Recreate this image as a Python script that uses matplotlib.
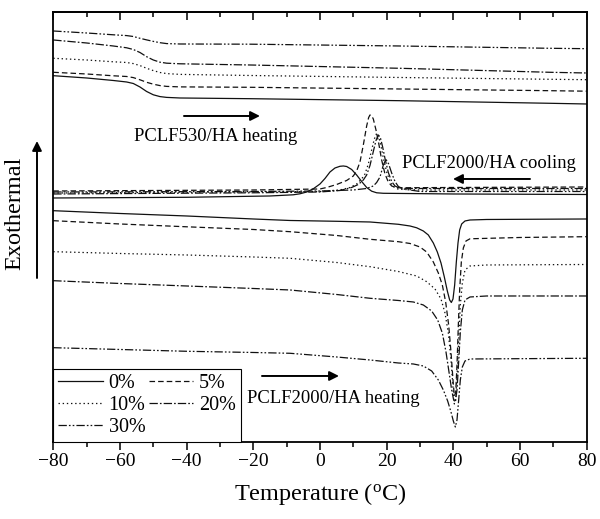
import numpy as np
import matplotlib
matplotlib.use("Agg")
import matplotlib.pyplot as plt
from matplotlib.ticker import MultipleLocator
from matplotlib.lines import Line2D

plt.rcParams['font.family'] = ['Liberation Serif', 'DejaVu Serif']
plt.rcParams['lines.scale_dashes'] = False

# ---------------- data (signal in a.u., larger value = lower on the chart) -------------
labels = ['0%', '5%', '10%', '20%', '30%']

# PCLF530/HA heating
T530 = [-80, -70, -62, -58, -56, -54, -52, -50, -48, -46, -42, -21, 24, 69, 80]
h530_S = {
    '0%':  [75.7, 78.0, 80.5, 82.0, 83.5, 87.0, 91.5, 94.8, 96.6, 97.4, 98.0, 98.7, 100.7, 103.3, 104.0],
    '5%':  [72.3, 74.0, 75.8, 76.5, 77.6, 79.8, 82.3, 84.2, 85.6, 86.4, 86.9, 87.3, 89.0, 90.7, 91.2],
    '10%': [58.3, 60.0, 61.8, 62.5, 63.6, 65.6, 68.3, 70.6, 72.5, 73.6, 74.4, 75.5, 77.5, 79.3, 79.7],
    '20%': [40.0, 43.0, 46.0, 47.8, 49.5, 52.5, 56.7, 60.0, 62.2, 63.2, 63.8, 65.0, 68.3, 72.3, 73.0],
    '30%': [31.0, 33.0, 34.8, 35.6, 36.5, 38.3, 39.9, 41.4, 42.7, 43.6, 44.0, 44.2, 46.0, 48.3, 48.7],
}

# PCLF2000/HA cooling
c2000_T = {
    '0%':  [-80, -40, -15, -8, -6, -4, -2, 0, 1.5, 3, 4.5, 6, 7, 8, 9.5, 11, 12.5, 14, 15.5, 17, 19, 40, 80],
    '5%':  [-80, -20, 0, 2, 5, 8, 10, 11, 12, 13, 14, 14.6, 15, 15.5, 16, 16.8, 17.6, 18.5, 19.5, 20.5, 21.5, 23, 40, 80],
    '10%': [-80, -20, 0, 6, 9, 11, 12.5, 13.5, 14.5, 15.5, 16.3, 17, 17.6, 18.3, 19, 20, 21, 22, 23.5, 30, 80],
    '20%': [-80, -20, 0, 6, 9.5, 11.5, 13, 14, 15, 16, 16.8, 17.5, 18.1, 18.8, 19.5, 20.5, 21.5, 22.5, 24, 30, 80],
    '30%': [-80, -20, 0, 10, 14, 16, 17, 18, 19, 19.8, 20.6, 21.5, 22.5, 23.5, 25, 30, 80],
}
c2000_S = {
    '0%':  [198.0, 197.3, 196.0, 194.8, 193.8, 192.0, 188.8, 184.0, 178.5, 172.0, 168.0, 166.3, 166.0, 166.5, 169.5,
            175.0, 181.5, 187.5, 191.2, 192.8, 193.3, 194.0, 194.5],
    '5%':  [191.0, 190.0, 189.0, 187.5, 184.5, 180.5, 176.0, 171.0, 162.0, 145.0, 126.0, 117.5, 115.0, 115.8, 119.0,
            130.0, 143.0, 160.0, 174.0, 182.0, 186.0, 187.8, 187.5, 187.0],
    '10%': [193.0, 192.0, 191.5, 190.0, 187.5, 184.0, 179.0, 174.0, 164.0, 150.0, 139.0, 133.3, 136.0, 146.0, 158.0,
            172.0, 181.7, 186.5, 189.3, 190.0, 190.0],
    '20%': [194.0, 192.8, 192.0, 190.5, 187.5, 184.5, 180.0, 175.0, 165.5, 151.5, 140.5, 135.0, 137.5, 147.0, 158.5,
            172.5, 181.5, 186.0, 188.3, 188.5, 188.5],
    '30%': [192.0, 191.5, 191.0, 190.0, 188.5, 186.0, 182.5, 177.0, 165.0, 159.3, 164.0, 173.0, 181.5, 186.5, 189.0,
            191.5, 191.5],
}

# PCLF2000/HA heating
h2000_T = {
    '0%':  [-80, -60, -40, -20, -9, 5, 15, 23.5, 27, 29, 31, 32.5, 34, 35.2, 36.3, 37.3, 38.2, 38.9, 39.4, 39.9,
            40.4, 40.9, 41.4, 41.9, 42.5, 43.5, 45, 50, 80],
    '5%':  [-80, -60, -40, -20, -9, 5, 15, 23.5, 27, 30, 32, 34, 35.5, 36.7, 37.7, 38.6, 39.3, 39.9, 40.3, 40.7,
            41.1, 41.5, 41.9, 42.4, 43, 43.8, 45, 60, 80],
    '10%': [-80, -60, -40, -20, -9, 5, 15, 23.5, 29, 32, 34.5, 36.3, 37.5, 38.5, 39.3, 39.9, 40.3, 40.7, 41.1,
            41.6, 42.1, 42.7, 43.5, 45, 50, 80],
    '20%': [-80, -60, -40, -20, -9, 5, 15, 23.5, 28, 31, 33.5, 35.3, 36.7, 37.8, 38.7, 39.5, 40.1, 40.6, 41.1,
            41.6, 42.1, 42.7, 43.5, 45, 50, 80],
    '30%': [-80, -60, -40, -20, -9, 5, 15, 23.5, 28, 31, 33.5, 35.5, 37, 38.3, 39.3, 40, 40.6, 41.1, 41.6,
            42.1, 42.7, 43.5, 45, 80],
}
h2000_S = {
    '0%':  [210.7, 213.5, 216.0, 219.0, 220.5, 221.3, 222.0, 224.3, 226.0, 227.8, 231.0, 235.0, 243.0, 252.0, 263.0,
            277.0, 291.0, 300.0, 302.5, 299.0, 285.0, 262.0, 243.0, 230.0, 224.0, 221.0, 220.0, 219.5, 219.0],
    '5%':  [220.7, 224.0, 226.8, 229.5, 231.7, 235.5, 239.3, 241.7, 243.5, 247.0, 252.0, 262.0, 273.0, 285.0, 302.0,
            325.0, 352.0, 380.0, 396.0, 393.0, 365.0, 325.0, 290.0, 262.0, 248.0, 241.0, 238.8, 237.5, 236.7],
    '10%': [251.7, 253.5, 255.0, 257.0, 258.3, 262.5, 266.7, 271.5, 276.0, 281.7, 289.0, 299.0, 313.0, 333.0, 360.0,
            388.0, 404.0, 400.0, 378.0, 340.0, 305.0, 283.0, 270.0, 266.0, 265.0, 264.5],
    '20%': [280.7, 283.5, 286.0, 288.5, 290.0, 294.5, 298.3, 300.5, 302.0, 305.0, 311.0, 320.0, 333.0, 352.0, 372.0,
            390.0, 400.0, 402.0, 390.0, 362.0, 332.0, 310.0, 300.0, 297.0, 296.0, 296.0],
    '30%': [347.7, 349.5, 351.3, 352.5, 353.3, 357.0, 360.0, 363.0, 364.0, 366.0, 371.0, 380.0, 390.0, 401.0, 412.0,
            421.0, 427.0, 420.0, 400.0, 380.0, 367.0, 361.0, 359.0, 358.3],
}

# ---------------- styles ----------------
styles = {
    '0%':  '-',
    '5%':  (0, (4.0, 2.2)),
    '10%': (0, (1.0, 2.0)),
    '20%': (0, (6.0, 1.5, 1.2, 1.5)),
    '30%': (0, (6.0, 1.5, 1.2, 1.5, 1.2, 1.5)),
}
LW = 0.9
COL = '#111111'

fig = plt.figure(figsize=(6.0, 5.19), dpi=100)
ax = fig.add_axes([0.0888, 0.1484, 0.889, 0.8285])

for lab in labels:
    ax.plot(T530, h530_S[lab], color=COL, lw=LW, linestyle=styles[lab])
    ax.plot(c2000_T[lab], c2000_S[lab], color=COL, lw=LW, linestyle=styles[lab])
    ax.plot(h2000_T[lab], h2000_S[lab], color=COL, lw=LW, linestyle=styles[lab])

ax.set_xlim(-80, 80)
ax.set_ylim(442, 12)
ax.set_yticks([])
ax.xaxis.set_major_locator(MultipleLocator(20))
ax.xaxis.set_minor_locator(MultipleLocator(10))
ax.tick_params(axis='x', which='both', direction='out', top=False, labelsize=14, pad=2, width=1.1, color='black')
ax.tick_params(axis='x', which='major', length=5.8)
ax.tick_params(axis='x', which='minor', length=3.6)
for s in ax.spines.values():
    s.set_linewidth(1.3)

sec = ax.secondary_xaxis('top')
sec.xaxis.set_major_locator(MultipleLocator(20))
sec.xaxis.set_minor_locator(MultipleLocator(10))
sec.tick_params(axis='x', which='both', direction='in', labeltop=False, width=1.1)
sec.tick_params(axis='x', which='major', length=5.8)
sec.tick_params(axis='x', which='minor', length=3.6)
sec.spines['top'].set_linewidth(1.3)

ax.set_xlabel('Temperature ($\\mathregular{^{o}}$C)', fontsize=17.5, labelpad=8)

# annotations
ann_fs = 13.4
ax.text(-55.8, 141, 'PCLF530/HA heating', fontsize=ann_fs, ha='left', va='baseline')
ax.text(24.6, 168, 'PCLF2000/HA cooling', fontsize=ann_fs, ha='left', va='baseline')
ax.text(-21.9, 403, 'PCLF2000/HA heating', fontsize=ann_fs, ha='left', va='baseline')
aprops = dict(arrowstyle='-|>', mutation_scale=14, lw=1.4, color='black', shrinkA=0, shrinkB=0)
ax.annotate('', xy=(-18.0, 116), xytext=(-40.8, 116), arrowprops=aprops)
ax.annotate('', xy=(39.9, 179), xytext=(63.0, 179), arrowprops=aprops)
ax.annotate('', xy=(5.7, 376), xytext=(-17.4, 376), arrowprops=aprops)

# Exothermal label and arrow
fig.text(15 / 600, 1 - 213 / 519, 'Exothermal', rotation=90, fontsize=17.5, ha='center', va='center')
fig.patches.append(matplotlib.patches.FancyArrowPatch(
    (37 / 600, 1 - 278 / 519), (37 / 600, 1 - 141 / 519), transform=fig.transFigure,
    arrowstyle='-|>', mutation_scale=14, lw=1.4, color='black', shrinkA=0, shrinkB=0))

# legend (column-major order)
order = ['0%', '10%', '30%', '5%', '20%']
handles = [Line2D([], [], color=COL, lw=LW, linestyle=styles[l]) for l in order]
leg = ax.legend(handles, order, loc='lower left', bbox_to_anchor=(0, 0), borderaxespad=0,
                ncol=2, fontsize=14.5, handlelength=2.2, handletextpad=0.3, columnspacing=0.15,
                labelspacing=0.15, borderpad=0.25, fancybox=False, framealpha=1, edgecolor='black')
leg.get_frame().set_linewidth(0.8)

fig.savefig('out.png', dpi=100)
